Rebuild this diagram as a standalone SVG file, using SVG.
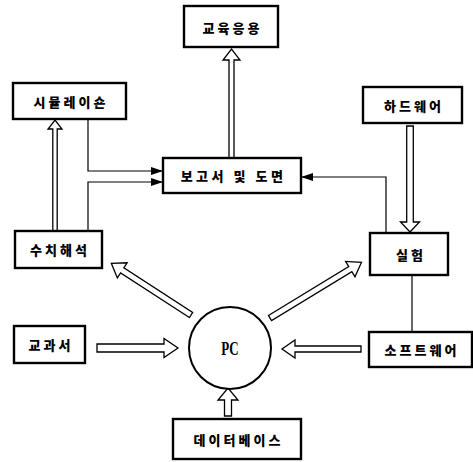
<svg xmlns="http://www.w3.org/2000/svg" width="473" height="462" viewBox="0 0 473 462">
  <defs>
    <marker id="head" viewBox="0 0 12 8" refX="12" refY="4" markerWidth="12" markerHeight="8" markerUnits="userSpaceOnUse" orient="auto">
      <path d="M0,0 L12,4 L0,8 Z" fill="#000"/>
    </marker>
  </defs>
  <style>
    .box { fill: #fff; stroke: #000; stroke-width: 2.4; }
    .lbl { font-family: "Noto Sans CJK KR", "Noto Sans", sans-serif; font-weight: 900; font-size: 13px; letter-spacing: 3px; text-anchor: middle; dominant-baseline: central; fill: #000; }
    .line { fill: none; stroke: #000; stroke-width: 1.2; }
    .hollow { fill: #fff; stroke: #000; stroke-width: 1.3; stroke-linejoin: miter; }
  </style>
  <rect width="473" height="462" fill="#fff"/>

  <!-- connectors -->
  <g id="connectors">
    <path class="line" d="M88,119 V171 H163" marker-end="url(#head)"/>
    <path class="line" d="M88,231 V182 H163" marker-end="url(#head)"/>
    <path class="line" d="M386,233 V177 H301" marker-end="url(#head)"/>
    <path class="line" d="M412,275 V332"/>

    <!-- hollow block arrows, drawn along +x then placed -->
    <g transform="translate(231.5,158) rotate(-90)">
      <polygon class="hollow" points="0,-2.5 98,-2.5 98,-8.5 109,0 98,8.5 98,2.5 0,2.5"/>
    </g>
    <g transform="translate(55,231) rotate(-90)">
      <polygon class="hollow" points="0,-2.2 102,-2.2 102,-7 111,0 102,7 102,2.2 0,2.2"/>
    </g>
    <g transform="translate(410,126) rotate(90)">
      <polygon class="hollow" points="0,-3.3 96,-3.3 96,-9.5 106,0 96,9.5 96,3.3 0,3.3"/>
    </g>
    <g transform="translate(97,348)">
      <polygon class="hollow" points="0,-4 67,-4 67,-9.5 81,0 67,9.5 67,4 0,4"/>
    </g>
    <g transform="translate(361,349) rotate(180)">
      <polygon class="hollow" points="0,-3 66,-3 66,-9 79,0 66,9 66,3 0,3"/>
    </g>
    <g transform="translate(228,416) rotate(-90)">
      <polygon class="hollow" points="0,-3.5 16,-3.5 16,-10 28,0 16,10 16,3.5 0,3.5"/>
    </g>
    <g transform="translate(191,315) rotate(213)">
      <polygon class="hollow" points="0,-3 82,-3 82,-9 95,0 82,9 82,3 0,3"/>
    </g>
    <g transform="translate(270,318) rotate(-31.3)">
      <polygon class="hollow" points="0,-3 94,-3 94,-9 107,0 94,9 94,3 0,3"/>
    </g>
  </g>

  <!-- nodes -->
  <g id="edu">
    <rect class="box" x="184" y="6" width="94" height="41"/>
    <text class="lbl" x="232.5" y="27">교육응용</text>
  </g>
  <g id="sim">
    <rect class="box" x="13" y="83" width="113" height="36"/>
    <text class="lbl" x="71" y="101">시뮬레이숀</text>
  </g>
  <g id="hw">
    <rect class="box" x="363" y="87" width="99" height="36"/>
    <text class="lbl" x="414" y="105">하드웨어</text>
  </g>
  <g id="report">
    <rect class="box" x="163" y="158" width="138" height="35"/>
    <text class="lbl" x="233.5" y="175.5" style="letter-spacing:3.5px">보고서 및 도면</text>
  </g>
  <g id="numeric">
    <rect class="box" x="15" y="231" width="87" height="37"/>
    <text class="lbl" x="60" y="249.5">수치해석</text>
  </g>
  <g id="experiment">
    <rect class="box" x="370" y="233" width="78" height="42"/>
    <text class="lbl" x="411" y="254">실험</text>
  </g>
  <g id="textbook">
    <rect class="box" x="14" y="326" width="71" height="37"/>
    <text class="lbl" x="51" y="344.5">교과서</text>
  </g>
  <g id="pc">
    <circle cx="230" cy="348" r="41" fill="#fff" stroke="#000" stroke-width="2"/>
    <text x="230" y="349" font-family="Liberation Serif, serif" font-size="18" font-weight="bold" text-anchor="middle" dominant-baseline="central" transform="translate(230,349) scale(0.72,1) translate(-230,-349)">PC</text>
  </g>
  <g id="software">
    <rect class="box" x="369" y="332" width="103" height="35"/>
    <text class="lbl" x="422" y="349.5">소프트웨어</text>
  </g>
  <g id="database">
    <rect class="box" x="173" y="419" width="128" height="40"/>
    <text class="lbl" x="238.5" y="439">데이터베이스</text>
  </g>
</svg>
